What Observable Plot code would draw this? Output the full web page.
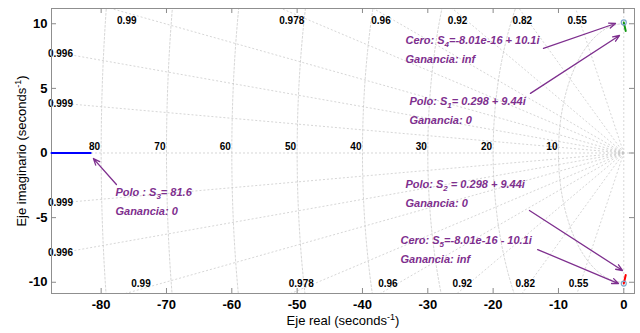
<!DOCTYPE html>
<html><head><meta charset="utf-8">
<script src="https://cdn.jsdelivr.net/npm/d3@7"></script>
<script src="https://cdn.jsdelivr.net/npm/@observablehq/plot@0.6"></script>
<style>body{margin:0;background:#fff}</style>
</head><body><div id="chart"></div>
<script>
// ---- data ----
const xLimits = [-87.6, 1.64];
const yLimits = [-10.87, 11.18];
const xTicks = [-80, -70, -60, -50, -40, -30, -20, -10, 0];
const yTicks = [-10, -5, 0, 5, 10];
const dampingRatios = [0.55, 0.82, 0.92, 0.96, 0.978, 0.99, 0.996, 0.999];
const naturalFreqs = [10, 20, 30, 40, 50, 60, 70, 80];
const branchBlueX = [-87.6, -81.6], branchBlueY = [0, 0];
const branchGreenX = [0.298, 0], branchGreenY = [9.44, 10.1];
const branchRedX = [0.298, 0], branchRedY = [-9.44, -10.1];
const zerosX = [0, 0], zerosY = [10.1, -10.1];
const noteText = [
  "Cero: S_{4}=-8.01e-16 + 10.1i", "Ganancia: inf",
  "Polo: S_{1}= 0.298 + 9.44i", "Ganancia: 0",
  "Polo : S_{3}= 81.6", "Ganancia: 0",
  "Polo: S_{2} = 0.298 + 9.44i", "Ganancia: 0",
  "Cero: S_{5}=-8.01e-16 - 10.1i", "Ganancia: inf"
];
const noteX = [-33.42, -33.42, -32.81, -32.81, -77.81, -77.81, -33.42, -33.42, -34.18, -34.18];
const noteY = [8.71, 7.24, 3.99, 2.52, -3.06, -4.53, -2.44, -3.91, -6.77, -8.24];
const arrowX1 = [-12.29, -14.29, -77.66, -14.44, -13.18];
const arrowY1 = [8.09, 4.61, -2.44, -4.45, -7.47];
const arrowX2 = [-1.27, -0.66, -81.18, -0.20, -0.81];
const arrowY2 = [10.02, 9.09, -0.43, -9.09, -10.10];
const xLabel = "Eje real (seconds^{-1})";
const yLabel = "Eje imaginario (seconds^{-1})";

// ---- derived tables ----
const purple = "#7E2F8E";
const gridColor = "#c4c4c4";
const zetaSegs = [];
dampingRatios.forEach(z => {
  const s = Math.sqrt(1 - z * z);
  zetaSegs.push({x2: -150 * z, y2: 150 * s});
  zetaSegs.push({x2: -150 * z, y2: -150 * s});
});
const arcs = [];
naturalFreqs.forEach(w => {
  for (let a = 90; a <= 270; a += 1) {
    const r = a * Math.PI / 180;
    arcs.push({w, x: w * Math.cos(r), y: w * Math.sin(r)});
  }
});
const zetaLabels = [];
const yTopA = yLimits[1] - 0.34, yBotA = yLimits[0] + 0.34;
dampingRatios.forEach(z => {
  const slope = Math.sqrt(1 - z * z) / z;
  const xTop = -yTopA / slope;
  if (xTop > xLimits[0]) {
    zetaLabels.push({x: xTop, y: 10.26, t: String(z), a: "middle"});
    zetaLabels.push({x: yBotA / slope, y: -10.1, t: String(z), a: "middle"});
  } else {
    const xx = -(xLimits[0] + 1.9);
    zetaLabels.push({x: xLimits[0] + 1.37, y: slope * xx, t: String(z), a: "start"});
    zetaLabels.push({x: xLimits[0] + 1.37, y: -slope * xx, t: String(z), a: "start"});
  }
});
const notes = noteText.map((t, i) => ({t, x: noteX[i], y: noteY[i]}));
const arrows = arrowX1.map((d, i) => ({x1: arrowX1[i], y1: arrowY1[i], x2: arrowX2[i], y2: arrowY2[i]}));
const tyLen = (yLimits[1] - yLimits[0]) * 5 / 285;
const txLen = (xLimits[1] - xLimits[0]) * 5 / 583;
const tickColor = "#8a8a8a";
const yMid = (yLimits[0] + yLimits[1]) / 2;

const chart = Plot.plot({
  width: 640, height: 333,
  marginLeft: 51, marginRight: 6, marginTop: 8, marginBottom: 40,
  style: {fontFamily: "'Liberation Sans', Arial, sans-serif", background: "white", color: "black"},
  x: {domain: xLimits},
  y: {domain: yLimits},
  marks: [
    Plot.link(zetaSegs, {x1: () => 0, y1: () => 0, x2: "x2", y2: "y2", stroke: gridColor, strokeWidth: 0.7, strokeDasharray: "2,2", clip: true}),
    Plot.line(arcs, {x: "x", y: "y", z: "w", stroke: gridColor, strokeWidth: 0.7, strokeDasharray: "2,2", clip: true}),
    Plot.ruleY([0], {stroke: gridColor, strokeWidth: 0.7, strokeDasharray: "2,2"}),
    Plot.ruleX([0], {stroke: gridColor, strokeWidth: 0.7, strokeDasharray: "2,2"}),
    Plot.text(zetaLabels, {x: "x", y: "y", text: "t", textAnchor: "a", fontSize: 10, fontWeight: "bold", fill: "black"}),
    Plot.text(naturalFreqs, {x: d => -d, y: () => 0.5, text: d => String(d), textAnchor: "end", dx: -1, fontSize: 10, fontWeight: "bold", fill: "black"}),
    Plot.frame({stroke: "#8f8f8f"}),
    Plot.ruleX(xTicks, {y1: yLimits[0], y2: yLimits[0] + tyLen, stroke: tickColor}),
    Plot.ruleX(xTicks, {y1: yLimits[1], y2: yLimits[1] - tyLen, stroke: tickColor}),
    Plot.ruleY(yTicks, {x1: xLimits[0], x2: xLimits[0] + txLen, stroke: tickColor}),
    Plot.ruleY(yTicks, {x1: xLimits[1], x2: xLimits[1] - txLen, stroke: tickColor}),
    Plot.axisX(xTicks, {anchor: "bottom", tickSize: 0, tickPadding: 6, fontSize: 13, fontWeight: "bold", tickFormat: d => String(d), label: null}),
    Plot.axisY(yTicks, {anchor: "left", tickSize: 0, tickPadding: 4, fontSize: 13, fontWeight: "bold", tickFormat: d => String(d), label: null}),
    Plot.line(branchBlueX.map((x, i) => ({x, y: branchBlueY[i]})), {x: "x", y: "y", stroke: "#0000ff", strokeWidth: 2}),
    Plot.line(branchGreenX.map((x, i) => ({x, y: branchGreenY[i]})), {x: "x", y: "y", stroke: "#119911", strokeWidth: 2}),
    Plot.line(branchRedX.map((x, i) => ({x, y: branchRedY[i]})), {x: "x", y: "y", stroke: "#ff0000", strokeWidth: 2}),
    Plot.dot(zerosX.map((x, i) => ({x, y: zerosY[i]})), {x: "x", y: "y", r: 2.5, stroke: "#7fa8cc", strokeWidth: 1.2, fill: "none"}),
    Plot.arrow(arrows, {x1: "x1", y1: "y1", x2: "x2", y2: "y2", stroke: purple, strokeWidth: 1.3, headLength: 8, headAngle: 45}),
    Plot.text(notes, {x: "x", y: "y", text: "t", textAnchor: "start", fontSize: 11, fontWeight: "bold", fontStyle: "italic", fill: purple}),
    Plot.text([0], {frameAnchor: "bottom", dy: 31, textAnchor: "middle", text: () => xLabel, fontSize: 13, fill: "black"}),
    Plot.text([0], {x: () => xLimits[0], y: () => yMid, dx: -30, rotate: -90, textAnchor: "middle", text: () => yLabel, fontSize: 13, fill: "black"})
  ]
});

document.getElementById("chart").appendChild(chart);

// rich text: _{..} subscript, ^{..} superscript
d3.select(chart).selectAll("text").each(function () {
  const s = this.textContent;
  if (!/[_^]\{/.test(s)) return;
  const sel = d3.select(this);
  const isLabel = /\^\{/.test(s);
  sel.text("");
  const re = /([_^])\{([^}]*)\}/g;
  let last = 0, m, shift = 0;
  const addNormal = (str) => {
    const t = sel.append("tspan").text(str);
    if (shift) { t.attr("dy", -shift); shift = 0; }
  };
  while ((m = re.exec(s))) {
    if (m.index > last) addNormal(s.slice(last, m.index));
    const sub = m[1] === "_";
    const d = sub ? 3 : -5;
    const t = sel.append("tspan").text(m[2]).attr("font-size", sub ? 8 : 9);
    t.attr("dy", d - shift);
    shift = d;
    last = re.lastIndex;
  }
  if (last < s.length) addNormal(s.slice(last));
  if (isLabel) {
    const len = this.getComputedTextLength();
    sel.attr("text-anchor", "start").attr("x", -len / 2);
  }
});
</script>
</body></html>
